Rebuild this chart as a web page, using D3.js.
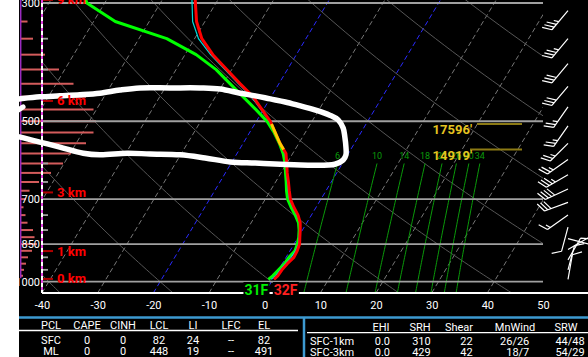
<!DOCTYPE html>
<html><head><meta charset="utf-8">
<script src="https://cdn.jsdelivr.net/npm/d3@7"></script>
<style>
html,body{margin:0;padding:0;background:#fff;overflow:hidden;}
svg{display:block;font-family:Roboto,"Noto Sans",sans-serif;}
</style></head><body>
<svg id="c" width="588" height="357"></svg>
<script>
// ---------------- data ----------------
const pressureLevels = [290,300,325,350,375,400,425,450,475,500,525,550,575,600,625,650,675,700,725,750,775,800,825,850,875,900,925,950,975,990];
const temperature = [-44.6,-43.7,-41.5,-38.7,-35.0,-30.9,-27.0,-23.2,-20.3,-17.5,-15.4,-13.4,-11.2,-10.0,-8.9,-7.7,-6.6,-5.5,-4.0,-2.4,-1.2,-0.4,0.3,1.0,1.3,1.4,0.9,0.6,0.5,0.2];
const dewpoint    = [-64.5,-63.2,-56.1,-45.0,-38.0,-32.8,-28.8,-25.0,-21.4,-18.1,-15.6,-13.5,-11.7,-10.3,-9.2,-8.1,-7.1,-6.0,-4.5,-2.9,-1.5,-0.6,0.1,0.6,0.9,0.5,0.4,0.0,-0.4,-0.8];
const wetbulb     = [-45.2,-44.3,-42.2,-39.3,-35.4,-31.2,-27.3,-23.5,-20.5,-17.7,-15.5,-13.45,-11.4,-10.1,-9.0,-7.9,-6.8,-5.7,-4.2,-2.6,-1.3,-0.5,0.2,0.8,1.0,0.9,0.6,0.3,0.1,-0.3];

const omegaLevels = [325,350,375,400,425,450,475,500,525,550,575,600,625,650,675,700,725,750,775,800,825,850,875,900,925,950,975];
const omegaValues = [1.3,2.4,4.8,7.6,10.5,13.0,14.5,15.0,14.5,13.0,10.0,8.4,6.0,3.6,1.7,1.0,0.5,0.9,1.3,2.4,2.7,3.2,2.2,1.4,1.0,0.6,0.4];

const isobarLabels = [300,500,700,850,1000];
const minorIsobars = [350,400,450,550,600,650,750,800,900,950];
const tempTicks = [-40,-30,-20,-10,0,10,20,30,40,50];
const isotherms = d3.range(-120,60,10);
const highlightIsotherms = [-20,0];
const dryAdiabatsC = d3.range(-60,240,20);   // potential temperature, deg C
const mixingRatios = [6,10,14,18,22,26,30,34];

const heightLabels = ["0 km","1 km","3 km","6 km","9 km"];
const heightPressures = [988,876,680,458,296];

const windP   = [270,310,350,390,430,470,510,550,590,630,670,710,750,790,830,870,910,950,990];
const windDir = [220,220,220,220,220,215,215,225,235,240,245,250,235,195,105,60,30,15,10];
const windSpd = [35,35,35,30,30,25,25,25,25,35,40,30,15,10,10,10,10,10,10];

const dgzPressures = [506,565];
const dgzLabels = ["17596'","14919'"];
const sfcLabels = ["31F","32F"];

// annotation loop: [temperature-axis value, pressure]
const loopAxisT = [-45.7,-44.1,-40.4,-36.8,-33.2,-29.6,-26.0,-22.4,-17.0,-11.6,-8.0,-4.4,-1.7,1.0,3.7,6.4,9.0,11.7,13.2,14.1,14.4,14.6,14.6,14.1,12.6,6.4,2.8,-1.7,-6.2,-10.7,-15.2,-20.6,-24.7,-29.6,-32.6,-36.8,-40.4,-44.1,-45.7];
const loopP     = [456,454,450,448,446,443,437,433,433,433,435,443,448,454,460,468,476,487,497,515,535,559,578,591,602,604,602,599,596,586,578,576,574,578,574,559,547,535,531];
const stubAxisT = [-44.5,-43.4];
const stubP = [478,470];

const parcelHeaders = ["PCL","CAPE","CINH","LCL","LI","LFC","EL"];
const parcelRows = [["SFC","0","0","82","24","--","82"],["ML","0","0","448","19","--","491"]];
const kinHeaders = ["EHI","SRH","Shear","MnWind","SRW"];
const kinRowLabels = ["SFC-1km","SFC-3km"];
const kinRows = [["0.0","310","22","26/26","44/48"],["0.0","429","42","18/7","54/29"]];

// ---------------- layout ----------------
const W = 588, H = 357;
const svg = d3.select("#c");
svg.append("rect").attr("x",19).attr("y",0).attr("width",W-19).attr("height",H).attr("fill","#000");

const x = d3.scaleLinear().domain([-40,50]).range([42,543]);
const y = d3.scaleLog().domain([1050,300]).range([293,3]);
const SKEW = 0.6;
const sx = (T,p) => x(T) + (y(1050) - y(p)) * SKEW;
const omegaScale = d3.scaleLinear().domain([0,20]).range([0,100]);

svg.append("defs").append("clipPath").attr("id","pc")
  .append("rect").attr("x",42).attr("y",-60).attr("width",501).attr("height",353);
const plot = svg.append("g").attr("clip-path","url(#pc)");

// isotherms
plot.selectAll(".iso").data(isotherms).join("line")
  .attr("x1",T=>sx(T,1050)).attr("y1",y(1050))
  .attr("x2",T=>sx(T,100)).attr("y2",y(100))
  .attr("stroke",T=>highlightIsotherms.includes(T)?"#2a2aff":"#777")
  .attr("stroke-width",1).attr("stroke-dasharray","5,3");

// dry adiabats
const pGrid = d3.range(1050,95,-10);
const line = d3.line();
plot.selectAll(".dry").data(dryAdiabatsC).join("path")
  .attr("d",th=>line(pGrid.map(p=>[sx((th+273.15)*Math.pow(p/1000,0.2857)-273.15,p),y(p)])))
  .attr("fill","none").attr("stroke","#565656").attr("stroke-width",1);

// mixing ratio lines
const tdFromW = (w,p)=>{const e=w*p/(622+w);const l=Math.log(e/6.112);return 243.5*l/(17.67-l);};
const wGrid = d3.range(1050,599,-10);
plot.selectAll(".mr").data(mixingRatios).join("path")
  .attr("d",w=>line(wGrid.map(p=>[sx(tdFromW(w,p),p),y(p)])))
  .attr("fill","none").attr("stroke","#0a9a0a").attr("stroke-width",1);
plot.selectAll(".mrl").data(mixingRatios).join("text")
  .attr("x",w=>sx(tdFromW(w,600),600)).attr("y",y(600)-4)
  .attr("text-anchor","middle").attr("font-size",9).attr("fill","#0a9a0a").text(w=>w);

// omega bars
svg.selectAll(".om").data(omegaLevels).join("line")
  .attr("x1",21).attr("x2",(p,i)=>21+omegaScale(omegaValues[i]))
  .attr("y1",p=>y(p)).attr("y2",p=>y(p))
  .attr("stroke","#d45c5c").attr("stroke-width",2);

// isobars
svg.selectAll(".isob").data(isobarLabels).join("line")
  .attr("x1",42).attr("x2",543).attr("y1",p=>y(p)).attr("y2",p=>y(p))
  .attr("stroke","#a0a0a0").attr("stroke-width",1.8);
svg.selectAll(".mtick").data(minorIsobars).join("line")
  .attr("x1",42).attr("x2",48).attr("y1",p=>y(p)).attr("y2",p=>y(p))
  .attr("stroke","#a0a0a0").attr("stroke-width",1.8);

// purple line + frame
svg.append("line").attr("x1",20.7).attr("x2",20.7).attr("y1",0).attr("y2",y(985))
  .attr("stroke","#9a2bbf").attr("stroke-width",1.5);
svg.append("line").attr("x1",42).attr("x2",42).attr("y1",0).attr("y2",293)
  .attr("stroke","#fff").attr("stroke-width",2);
svg.append("line").attr("x1",42).attr("x2",42).attr("y1",0).attr("y2",293)
  .attr("stroke","#e040e0").attr("stroke-width",2).attr("stroke-dasharray","3,4");
svg.append("line").attr("x1",42).attr("x2",W).attr("y1",293).attr("y2",293)
  .attr("stroke","#fff").attr("stroke-width",2);

// profiles
const prof = arr => pressureLevels.map((p,i)=>({p,T:arr[i]}));
const pline = d3.line().x(d=>sx(d.T,d.p)).y(d=>y(d.p));
svg.append("path").attr("d",pline(prof(dewpoint))).attr("fill","none").attr("stroke","#00ff00").attr("stroke-width",3).attr("stroke-linejoin","round");
svg.append("path").attr("d",pline(prof(wetbulb))).attr("fill","none").attr("stroke","#00d8d8").attr("stroke-width",1.2);
svg.append("path").attr("d",pline(prof(temperature))).attr("fill","none").attr("stroke","#ff0000").attr("stroke-width",3).attr("stroke-linejoin","round");
// DGZ highlight
const interpT = p => {
  const lp = Math.log(p);
  for (let i=0;i<pressureLevels.length-1;i++){
    const a=pressureLevels[i], b=pressureLevels[i+1];
    if (p>=a && p<=b){const f=(lp-Math.log(a))/(Math.log(b)-Math.log(a));return temperature[i]+f*(temperature[i+1]-temperature[i]);}
  }
  return temperature[0];
};
const dgzPts = [{p:dgzPressures[0],T:interpT(dgzPressures[0])}]
  .concat(prof(temperature).filter(d=>d.p>dgzPressures[0]&&d.p<dgzPressures[1]))
  .concat([{p:dgzPressures[1],T:interpT(dgzPressures[1])}]);
svg.append("path").attr("d",pline(dgzPts)).attr("fill","none").attr("stroke","#ffcc00").attr("stroke-width",3);

// annotation loop
const loopLine = d3.line().x(d=>x(d[0])).y(d=>y(d[1])).curve(d3.curveCatmullRom);
svg.append("path").attr("d",loopLine(loopAxisT.map((t,i)=>[t,loopP[i]])))
  .attr("fill","none").attr("stroke","#fff").attr("stroke-width",5.5).attr("stroke-linecap","round").attr("stroke-linejoin","round");
svg.append("path").attr("d",loopLine(stubAxisT.map((t,i)=>[t,stubP[i]])))
  .attr("fill","none").attr("stroke","#fff").attr("stroke-width",5).attr("stroke-linecap","round");

// DGZ labels
svg.selectAll(".dgzl").data(dgzPressures).join("line")
  .attr("x1",(p,i)=>i?470:477).attr("x2",522).attr("y1",p=>y(p)).attr("y2",p=>y(p))
  .attr("stroke","#8c7a14").attr("stroke-width",2);
svg.selectAll(".dgzt").data(dgzPressures).join("text")
  .attr("x",472).attr("y",p=>y(p)+5.5).attr("dy","0.35em").attr("text-anchor","end")
  .attr("font-size",13).attr("font-weight","bold").attr("fill","#e5c420")
  .text((p,i)=>dgzLabels[i]);

// height labels
svg.selectAll(".htk").data(heightPressures).join("line")
  .attr("x1",43).attr("x2",53).attr("y1",p=>y(p)).attr("y2",p=>y(p))
  .attr("stroke","#b00000").attr("stroke-width",2);
svg.selectAll(".htl").data(heightPressures).join("text")
  .attr("x",57).attr("y",p=>y(p)).attr("dy","0.35em")
  .attr("font-size",13).attr("font-weight","bold").attr("fill","#ff0000")
  .text((p,i)=>heightLabels[i]);

// pressure axis labels
const yAxis = d3.axisLeft(y).tickValues(isobarLabels).tickSize(0).tickPadding(0).tickFormat(d=>String(d));
const ya = svg.append("g").attr("transform","translate(40,0)").call(yAxis);
ya.select(".domain").remove();
ya.selectAll("text").attr("fill","#fff").attr("font-size",11).attr("font-family","Roboto");

// temperature axis labels
const xAxis = d3.axisBottom(x).tickValues(tempTicks).tickSize(0).tickPadding(0).tickFormat(d=>String(d));
const xa = svg.append("g").attr("transform","translate(0,305.5)").call(xAxis);
xa.select(".domain").remove();
xa.selectAll("text").attr("y",0).attr("dy","0.35em").attr("fill","#fff").attr("font-size",11).attr("font-family","Roboto");

// surface labels
const sfcT = temperature[temperature.length-1], sfcTd = dewpoint[dewpoint.length-1];
const sfcG = svg.append("g");
const sfcPos = [{x:x(sfcTd)+8,anchor:"end",fill:"#00ee00"},{x:x(sfcT)+8,anchor:"start",fill:"#ff2020"}];
sfcPos.forEach((s,i)=>{
  const t = sfcG.append("text").attr("x",s.x).attr("y",295).attr("text-anchor",s.anchor)
    .attr("font-size",14).attr("font-weight","bold").attr("fill",s.fill).text(sfcLabels[i]);
  const b = t.node().getBBox();
  sfcG.insert("rect","text").attr("x",b.x-1).attr("y",b.y).attr("width",b.width+2).attr("height",b.height).attr("fill","#000");
});

// wind barbs
function barb(cx,cy,dir,spd){
  const r=dir*Math.PI/180, ux=Math.sin(r), uy=-Math.cos(r), nx=-uy, ny=ux;
  const L=25, B=10, S=3.5;
  const tx=0.9*nx+0.45*ux, ty=0.9*ny+0.45*uy;
  let d=`M${cx},${cy}L${cx+L*ux},${cy+L*uy}`;
  let s=Math.round(spd/5)*5, pos=L;
  while(s>=50){
    const p1=[cx+pos*ux,cy+pos*uy], p2=[cx+(pos-6)*ux,cy+(pos-6)*uy], tip=[p1[0]+B*tx,p1[1]+B*ty];
    d+=`M${p1}L${tip}L${p2}Z`; pos-=8; s-=50;
  }
  while(s>=10){ d+=`M${cx+pos*ux},${cy+pos*uy}l${B*tx},${B*ty}`; pos-=S; s-=10; }
  if(s>=5){ if(pos===L) pos-=S; d+=`M${cx+pos*ux},${cy+pos*uy}l${B/2*tx},${B/2*ty}`; }
  return d;
}
svg.selectAll(".barb").data(windP).join("path")
  .attr("d",(p,i)=>barb(568,y(p),windDir[i],windSpd[i]))
  .attr("fill","none").attr("stroke","#fff").attr("stroke-width",1.2);

// ---------------- tables ----------------
svg.append("line").attr("x1",19).attr("x2",W).attr("y1",317.5).attr("y2",317.5).attr("stroke","#3d9ad1").attr("stroke-width",2.5);
svg.append("line").attr("x1",304).attr("x2",304).attr("y1",317).attr("y2",H).attr("stroke","#3d9ad1").attr("stroke-width",2.5);
svg.append("line").attr("x1",19).attr("x2",298).attr("y1",330.5).attr("y2",330.5).attr("stroke","#fff").attr("stroke-width",1.3);
svg.append("line").attr("x1",307).attr("x2",W).attr("y1",332.7).attr("y2",332.7).attr("stroke","#fff").attr("stroke-width",1.3);

const tg = svg.append("g").attr("font-size",11).attr("fill","#fff");
const pcCols = [51,87,123,159,193,231,264];
tg.selectAll(".ph").data(parcelHeaders).join("text")
  .attr("x",(d,i)=>pcCols[i]).attr("y",325.3).attr("dy","0.35em").attr("text-anchor","middle").text(d=>d);
parcelRows.forEach((row,r)=>{
  tg.selectAll(".pr"+r).data(row).join("text")
    .attr("x",(d,i)=>pcCols[i]).attr("y",r?351:340.3).attr("dy","0.35em").attr("text-anchor","middle").text(d=>d);
});
const kHead = [381,420,459,515,566];
const kVal = [390,430.7,472.7,529.3,584.7];
tg.selectAll(".kh").data(kinHeaders).join("text")
  .attr("x",(d,i)=>kHead[i]).attr("y",327.5).attr("dy","0.35em").attr("text-anchor","middle").text(d=>d);
kinRows.forEach((row,r)=>{
  const yy = r?352:341.3;
  tg.append("text").attr("x",310).attr("y",yy).attr("dy","0.35em").text(kinRowLabels[r]);
  tg.selectAll(".kr"+r).data(row).join("text")
    .attr("x",(d,i)=>kVal[i]).attr("y",yy).attr("dy","0.35em").attr("text-anchor","end").text(d=>d);
});
</script>
</body></html>
